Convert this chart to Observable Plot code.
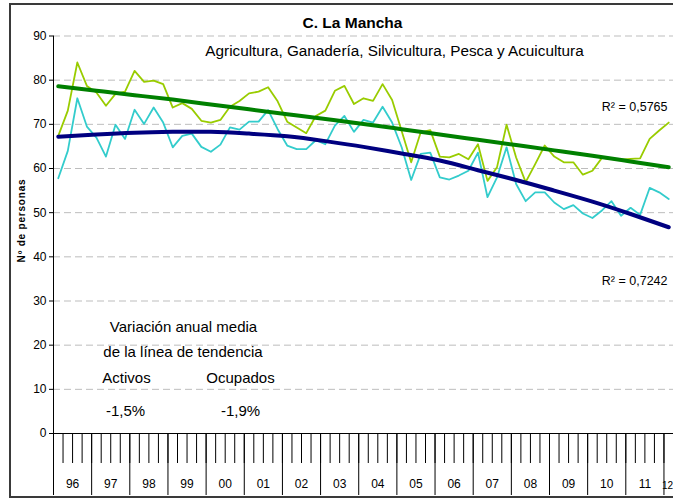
<!DOCTYPE html>
<html>
<head>
<meta charset="utf-8">
<script src="https://cdn.jsdelivr.net/npm/d3@7"></script>
<script src="https://cdn.jsdelivr.net/npm/@observablehq/plot@0.6"></script>
<style>
  html, body { margin: 0; padding: 0; background: #fff; }
  #wrap { position: relative; width: 673px; height: 499px; overflow: hidden; }
  #frame { position: absolute; left: 9px; top: 3px; width: 720px; height: 491px; border: 2px solid #3a3a3a; box-sizing: content-box; }
  #chart { position: absolute; left: 0; top: 0; }
  svg { overflow: visible; }
</style>
</head>
<body>
<div id="wrap"><div id="frame"></div><div id="chart"></div></div>
<script>
// ---- data (quarterly, 1996 Q1 .. 2012 Q1) ----
const years = ["96","97","98","99","00","01","02","03","04","05","06","07","08","09","10","11","12"];
const activos = [
  67.4, 73.1, 84.0, 78.7, 77.2, 74.2, 76.9, 77.4, 82.1, 79.6, 79.9, 79.1,
  73.8, 74.8, 73.5, 70.8, 70.4, 71.0, 74.0, 75.3, 77.0, 77.4, 78.4, 75.2,
  70.6, 69.3, 68.0, 71.9, 73.1, 77.6, 78.7, 74.6, 75.9, 75.3, 79.1, 75.5,
  68.5, 61.4, 68.2, 68.7, 62.7, 62.5, 63.3, 62.1, 65.5, 57.2, 60.3, 69.9,
  62.5, 56.9, 61.0, 65.2, 62.7, 61.4, 61.4, 58.6, 59.5, 62.4, 62.1, 62.0,
  62.2, 62.3, 66.7, 68.6, 70.4
];
const ocupados = [
  57.8, 64.0, 75.9, 69.5, 67.0, 62.7, 69.9, 66.7, 73.3, 70.1, 73.8, 70.4,
  64.8, 67.4, 67.9, 64.9, 63.8, 65.4, 69.3, 68.8, 70.6, 70.6, 73.2, 68.9,
  65.2, 64.4, 64.4, 66.4, 65.5, 69.7, 71.9, 68.3, 71.0, 70.4, 74.0, 70.4,
  64.8, 57.4, 63.3, 63.6, 58.0, 57.5, 58.4, 59.5, 63.6, 53.5, 58.0, 64.8,
  56.5, 52.6, 54.6, 54.6, 52.3, 50.8, 51.7, 49.8, 48.8, 50.5, 52.6, 49.3,
  51.1, 49.5, 55.6, 54.6, 53.1
];
// trend lines read at the first quarter of every year
const trendQuarter = [0, 4, 8, 12, 16, 20, 24, 28, 32, 36, 40, 44, 48, 52, 56, 60, 64];
const trendActivos = [78.6, 77.6, 76.6, 75.6, 74.5, 73.4, 72.3, 71.2, 70.1, 68.9, 67.7, 66.5, 65.3, 64.1, 62.9, 61.6, 60.3];
const trendOcupados = [67.2, 67.7, 68.1, 68.3, 68.3, 67.9, 67.3, 66.2, 64.9, 63.4, 61.8, 59.6, 57.4, 55.0, 52.5, 49.7, 46.7];
const yTicks = [0, 10, 20, 30, 40, 50, 60, 70, 80, 90];

const FONT = '"Liberation Sans Narrow", "Arial Narrow", "Liberation Sans", Arial, sans-serif';
const ML = 53, MT = 35.5;

const quarterBounds = d3.range(-0.5, 64.6, 1);
const yearBounds = d3.range(-0.5, 64.6, 4);
const yearCenters = years.slice(0, -1).map((y, k) => k * 4 + 1.5);
const yearLabel = new Map(yearCenters.map((c, k) => [c, years[k]]));

// free text placed in pixel coordinates relative to the SVG
function label(txt, x, y, o = {}) {
  return Plot.text([txt], {
    frameAnchor: "top-left", dx: x - ML, dy: y - MT,
    text: d => d, lineAnchor: "bottom",
    textAnchor: o.anchor || "middle", fontSize: o.size || 12,
    fontWeight: o.weight || "normal", fill: "#000", rotate: o.rotate || 0,
    className: o.cls
  });
}

const chart = Plot.plot({
  width: 673, height: 499,
  marginLeft: ML, marginRight: 0, marginTop: MT, marginBottom: 66,
  x: {domain: [-0.5, 64.5], axis: null},
  y: {domain: [0, 90], axis: null},
  style: {fontFamily: FONT, fontSize: "12px", background: "transparent", color: "#000"},
  marks: [
    Plot.gridY(yTicks.filter(d => d > 0), {stroke: "#bdbdbd", strokeOpacity: 1, strokeDasharray: "7,4"}),
    Plot.axisY(yTicks, {tickSize: 4, tickPadding: 3, label: null, fontSize: 12}),
    Plot.axisX(quarterBounds, {tickSize: 30, tickFormat: () => "", label: null}),
    Plot.axisX(yearBounds, {tickSize: 62, tickFormat: () => "", label: null}),
    Plot.axisX(yearCenters, {tickSize: 0, tickPadding: 46, tickFormat: d => yearLabel.get(d), label: null, fontSize: 12}),
    Plot.ruleX([-0.5], {stroke: "#000"}),
    Plot.ruleY([0], {stroke: "#000"}),
    Plot.line(activos, {x: (d, i) => i, y: d => d, stroke: "#99cc00", strokeWidth: 1.8}),
    Plot.line(ocupados, {x: (d, i) => i, y: d => d, stroke: "#33cccc", strokeWidth: 1.8}),
    Plot.line(trendQuarter, {x: d => d, y: (d, i) => trendActivos[i], stroke: "#008000", strokeWidth: 4, curve: "natural"}),
    Plot.line(trendQuarter, {x: d => d, y: (d, i) => trendOcupados[i], stroke: "#000080", strokeWidth: 4, curve: "natural"}),
    label(years[years.length - 1], 672.5, 488, {anchor: "end", size: 10}),
    label("C. La Mancha", 352, 27, {size: 15.5, weight: "bold"}),
    label("Agricultura, Ganadería, Silvicultura, Pesca y Acuicultura", 394, 55, {size: 15.3}),
    label("R² = 0,5765", 667, 110, {anchor: "end", size: 12.5}),
    label("R² = 0,7242", 667, 284, {anchor: "end", size: 12.5}),
    label("Variación anual media", 183, 331, {size: 15}),
    label("de la línea de tendencia", 182.5, 356, {size: 15}),
    label("Activos", 126, 382, {size: 15}),
    label("Ocupados", 240, 382, {size: 15}),
    label("-1,5%", 125, 415, {size: 15}),
    label("-1,9%", 240, 415, {size: 15}),
    label("Nº de personas", 24, 220, {size: 10, weight: "bold", rotate: -90, cls: "ytitle"})
  ]
});
d3.select(chart).selectAll(".ytitle text").attr("letter-spacing", "0.8px");
document.getElementById("chart").appendChild(chart);
</script>
</body>
</html>
